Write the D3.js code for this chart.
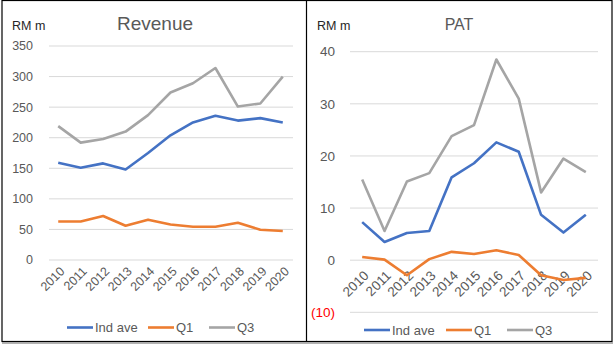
<!DOCTYPE html>
<html>
<head>
<meta charset="utf-8">
<script src="https://cdn.jsdelivr.net/npm/d3@7"></script>
<style>
  body { margin: 0; background: #fff; }
  svg { display: block; font-family: "Liberation Sans", Arial, sans-serif; }
</style>
</head>
<body>
<div id="chart"></div>
<script>
// data
const years = ["2010","2011","2012","2013","2014","2015","2016","2017","2018","2019","2020"];

const revInd = [159, 151, 158, 148, 175, 204, 225, 236, 228, 232, 225];
const revQ1  = [63, 63, 72, 56, 66, 58, 54.5, 54.5, 61, 49.5, 47.5];
const revQ3  = [219, 192, 198, 210, 237, 274, 289, 314, 251, 256, 300];
const revTicks = [0, 50, 100, 150, 200, 250, 300, 350];

const patInd = [7.3, 3.5, 5.2, 5.6, 15.9, 18.6, 22.6, 20.8, 8.7, 5.3, 8.7];
const patQ1  = [0.6, 0.1, -2.9, 0.2, 1.6, 1.2, 1.9, 1.0, -2.9, -3.8, -3.4];
const patQ3  = [15.5, 5.6, 15.1, 16.7, 23.8, 25.9, 38.5, 31.0, 13.0, 19.5, 16.9];
const patTicks = [-10, 0, 10, 20, 30, 40];

const seriesNames = ["Ind ave", "Q1", "Q3"];
const colors = ["#4472C4", "#ED7D31", "#A5A5A5"];

const svg = d3.select("#chart").append("svg")
    .attr("width", 614)
    .attr("height", 346);

// outer frame + divider
svg.append("rect")
    .attr("x", 2).attr("y", 0.5)
    .attr("width", 610).attr("height", 341)
    .attr("fill", "none")
    .attr("stroke", "#000")
    .attr("stroke-width", 1.2);
svg.append("line")
    .attr("x1", 306.5).attr("x2", 306.5)
    .attr("y1", 0).attr("y2", 342)
    .attr("stroke", "#000")
    .attr("stroke-width", 1.2);
svg.append("line")
    .attr("x1", 2).attr("x2", 613)
    .attr("y1", 343).attr("y2", 343)
    .attr("stroke", "#999")
    .attr("stroke-width", 1.5);

function drawPanel(o) {
  const g = svg.append("g");

  const x = d3.scaleBand().domain(years).range(o.xRange);
  const cx = d => x(d) + x.bandwidth() / 2;
  const y = d3.scaleLinear().domain(o.yDomain).range(o.yRange);

  // gridlines
  g.append("g")
    .selectAll("line")
    .data(o.ticks)
    .enter().append("line")
      .attr("x1", o.gridX[0]).attr("x2", o.gridX[1])
      .attr("y1", d => y(d)).attr("y2", d => y(d))
      .attr("stroke", "#d9d9d9")
      .attr("stroke-width", 1);

  // y tick labels
  g.append("g")
    .selectAll("text")
    .data(o.ticks)
    .enter().append("text")
      .attr("x", o.tickX)
      .attr("y", d => y(d))
      .attr("dy", "0.35em")
      .attr("text-anchor", "end")
      .style("font-size", o.fontSize)
      .attr("fill", d => d < 0 ? "#FF0000" : "#595959")
      .text(d => d < 0 ? "(" + Math.abs(d) + ")" : d);

  // x tick labels
  g.append("g")
    .selectAll("text")
    .data(years)
    .enter().append("text")
      .attr("text-anchor", "end")
      .attr("transform", d => "translate(" + (cx(d) + 4) + "," + o.xLabY + ") rotate(-45)")
      .attr("dy", "0.35em")
      .style("font-size", o.fontSize)
      .attr("fill", "#595959")
      .text(d => d);

  // lines
  const line = d3.line()
      .x((d, i) => cx(years[i]))
      .y(d => y(d));

  o.series.forEach((s, k) => {
    g.append("path")
      .datum(s)
      .attr("fill", "none")
      .attr("stroke", colors[k])
      .attr("stroke-width", 2.6)
      .attr("stroke-linejoin", "round")
      .attr("d", line);
  });

  // unit + title
  g.append("text")
    .attr("x", o.unitX).attr("y", 30)
    .style("font-size", "12.5px")
    .attr("fill", "#262626")
    .text("RM m");
  g.append("text")
    .attr("x", o.titleX).attr("y", 30)
    .attr("text-anchor", "middle")
    .style("font-size", o.titleSize)
    .attr("fill", "#595959")
    .text(o.title);

  // legend
  const leg = g.selectAll(".leg")
    .data(seriesNames)
    .enter().append("g")
      .attr("transform", (d, i) => "translate(" + o.legX[i] + "," + o.legY + ")");
  leg.append("line")
    .attr("x1", 0).attr("x2", 26)
    .attr("stroke", (d, i) => colors[i])
    .attr("stroke-width", 2.6);
  leg.append("text")
    .attr("x", 28)
    .attr("dy", "0.35em")
    .style("font-size", "13px")
    .attr("fill", "#595959")
    .text(d => d);
}

drawPanel({
  xRange: [47, 294],
  yDomain: [0, 350], yRange: [260, 46],
  gridX: [49, 293],
  ticks: revTicks,
  tickX: 33, fontSize: "12.5px", xLabY: 269,
  series: [revInd, revQ1, revQ3],
  unitX: 12, titleX: 155, titleSize: "19px", title: "Revenue",
  legX: [67, 148, 209], legY: 327.5
});

drawPanel({
  xRange: [351, 597],
  yDomain: [-10, 40], yRange: [312.3, 51.7],
  gridX: [350, 598],
  ticks: patTicks,
  tickX: 335, fontSize: "13.5px", xLabY: 273,
  series: [patInd, patQ1, patQ3],
  unitX: 317, titleX: 459, titleSize: "16px", title: "PAT",
  legX: [364, 446, 507], legY: 330
});
</script>
</body>
</html>
